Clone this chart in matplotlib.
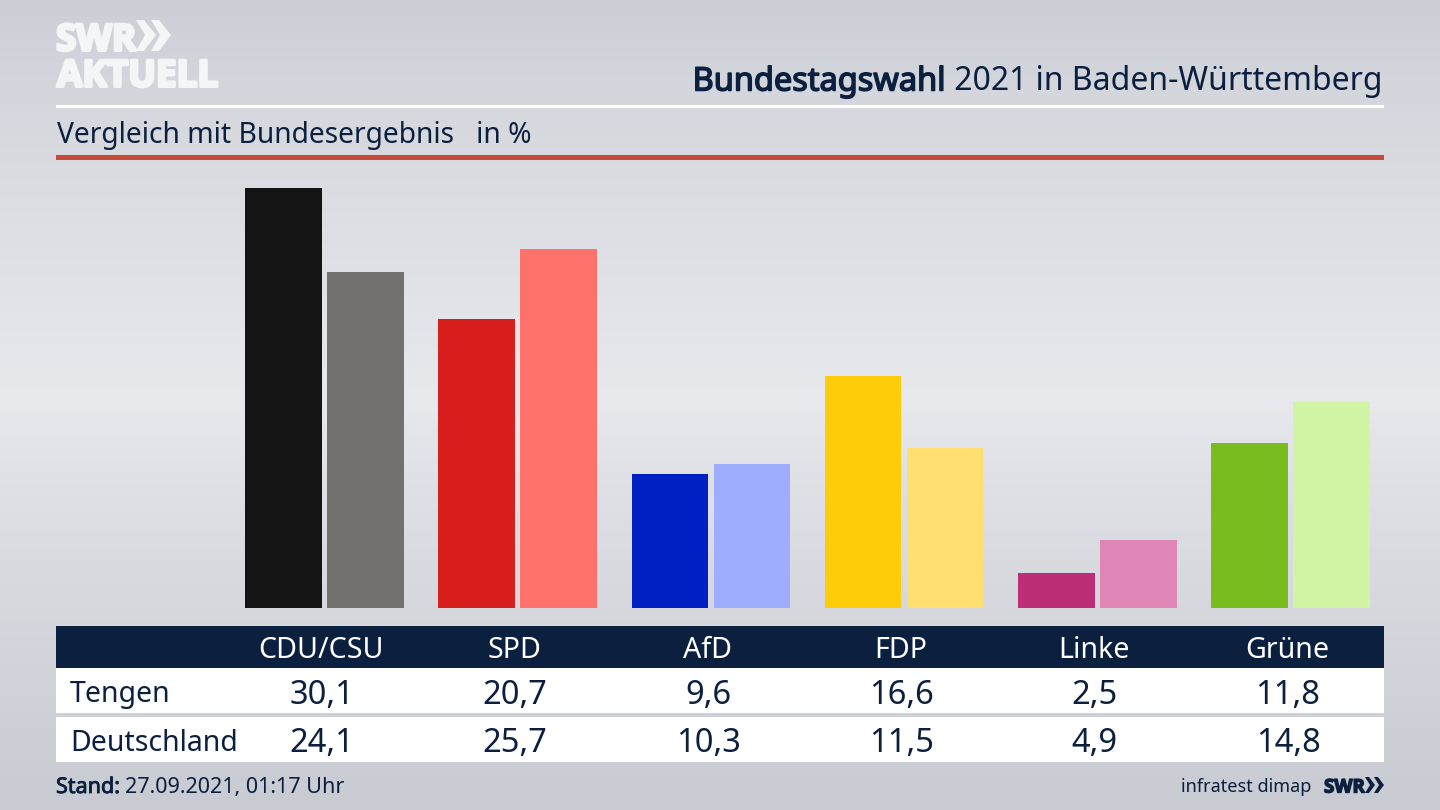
import numpy as np
import matplotlib
matplotlib.use("Agg")
import matplotlib.pyplot as plt
import matplotlib.patheffects as pe
from matplotlib.patches import Rectangle, Polygon

parties = ["CDU/CSU", "SPD", "AfD", "FDP", "Linke", "Grüne"]
tengen = [30.1, 20.7, 9.6, 16.6, 2.5, 11.8]
deutschland = [24.1, 25.7, 10.3, 11.5, 4.9, 14.8]
colors_local = ["#141414", "#d81f1d", "#0020c4", "#ffcc0a", "#bc2f78", "#78bc1e"]
colors_national = ["#72716e", "#ff726c", "#9fadff", "#ffdf70", "#e086b6", "#d2f5a5"]
row_names = ["Tengen", "Deutschland"]
NAVY = "#0b1f3f"
plt.rcParams["font.family"] = ["Noto Sans", "DejaVu Sans"]
LOGO_FONT = "Open Sans"

def fmt(v):
    return f"{v:.1f}".replace(".", ",")

def fat(color, w):
    return [pe.withStroke(linewidth=w, foreground=color)]

fig = plt.figure(figsize=(14.4, 8.1), dpi=100)

# page layer in pixel coordinates
bg = fig.add_axes([0, 0, 1, 1])
bg.set_xlim(0, 1440); bg.set_ylim(810, 0); bg.axis("off")
g_top = np.array([203, 206, 213]) / 255
g_mid = np.array([232, 233, 237]) / 255
g_bot = np.array([200, 203, 210]) / 255
t = np.linspace(0, 1, 405)[:, None] ** 0.8
grad = np.vstack([g_top + (g_mid - g_top) * t, g_mid + (g_bot - g_mid) * t])[:, None, :]
bg.imshow(grad, extent=(0, 1440, 810, 0), aspect="auto", zorder=0)

# header
W = "#f4f5f7"
bg.text(56, 36, "SWR", fontsize=26.5, fontweight="bold", color=W, va="center_baseline", ha="left", family=LOGO_FONT,
        path_effects=fat(W, 2.2))
bg.text(57, 72, "AKTUELL", fontsize=26.5, fontweight="bold", color=W, va="center_baseline", ha="left", family=LOGO_FONT,
        path_effects=fat(W, 2.2))
for x0 in (136, 151):
    bg.add_patch(Polygon([(x0, 20), (x0 + 8, 20), (x0 + 20, 35), (x0 + 8, 51), (x0, 51), (x0 + 9, 35)],
                         closed=True, fc=W, ec="none", zorder=3))
title = bg.text(1383, 78, " 2021 in Baden-Württemberg", fontsize=23, color=NAVY, va="center_baseline", ha="right")
fig.canvas.draw()
bb = title.get_window_extent().transformed(bg.transData.inverted())
bg.text(bb.x0 - 1, 78, "Bundestagswahl", fontsize=23.4, fontweight="bold", color=NAVY, va="center_baseline",
        ha="right", path_effects=fat(NAVY, 1.1))
bg.add_patch(Rectangle((56, 104.5), 1328, 3, fc="white", ec="none"))
bg.text(57, 132, "Vergleich mit Bundesergebnis   in %", fontsize=20.3, color=NAVY, va="center_baseline", ha="left")
bg.add_patch(Rectangle((56, 155), 1328, 5, fc="#c84b3a", ec="none"))

# table
bg.add_patch(Rectangle((56, 626), 1328, 42, fc=NAVY, ec="none"))
bg.add_patch(Rectangle((56, 668), 1328, 45, fc="white", ec="none"))
bg.add_patch(Rectangle((56, 717), 1328, 45, fc="white", ec="none"))

# bars
ax = fig.add_axes([228 / 1440, (810 - 608) / 810, 1159 / 1440, 448 / 810])
ax.set_xlim(-0.5, 5.5); ax.set_ylim(0, 448 / 13.95)
ax.axis("off"); ax.patch.set_alpha(0)
x = np.arange(len(parties))
ax.bar(x - 0.2124, tengen, width=0.397, color=colors_local)
ax.bar(x + 0.2124, deutschland, width=0.397, color=colors_national)

# table text (aligned with the bar groups)
for i, p in enumerate(parties):
    xp = 324.6 + 193.17 * i - 2.5
    bg.text(xp - 1, 647, p, fontsize=20.6, color="white", ha="center", va="center_baseline")
    bg.text(xp, 691, fmt(tengen[i]), fontsize=23.5, color=NAVY, ha="center", va="center_baseline")
    bg.text(xp, 740, fmt(deutschland[i]), fontsize=23.5, color=NAVY, ha="center", va="center_baseline")
bg.text(70, 691, row_names[0], fontsize=20.5, color=NAVY, ha="left", va="center_baseline")
bg.text(70, 740, row_names[1], fontsize=20.5, color=NAVY, ha="left", va="center_baseline")

# footer
s = bg.text(56, 785, "Stand:", fontsize=15.5, fontweight="bold", color=NAVY, ha="left", va="center_baseline",
            path_effects=fat(NAVY, 0.6))
fig.canvas.draw()
e = s.get_window_extent().transformed(bg.transData.inverted())
bg.text(e.x1 + 5, 785, "27.09.2021, 01:17 Uhr", fontsize=15.5, color=NAVY, ha="left", va="center_baseline")
bg.text(1311, 785, "infratest dimap", fontsize=13, color=NAVY, ha="right", va="center_baseline")
bg.text(1324, 785, "SWR", fontsize=13.5, fontweight="bold", color=NAVY, ha="left", va="center_baseline",
        family=LOGO_FONT, path_effects=fat(NAVY, 1.0))
for x0 in (1365, 1374):
    bg.add_patch(Polygon([(x0, 777), (x0 + 4, 777), (x0 + 10, 785), (x0 + 4, 793), (x0, 793), (x0 + 5, 785)],
                         closed=True, fc=NAVY, ec="none", zorder=3))

fig.savefig("out.png", dpi=100)
